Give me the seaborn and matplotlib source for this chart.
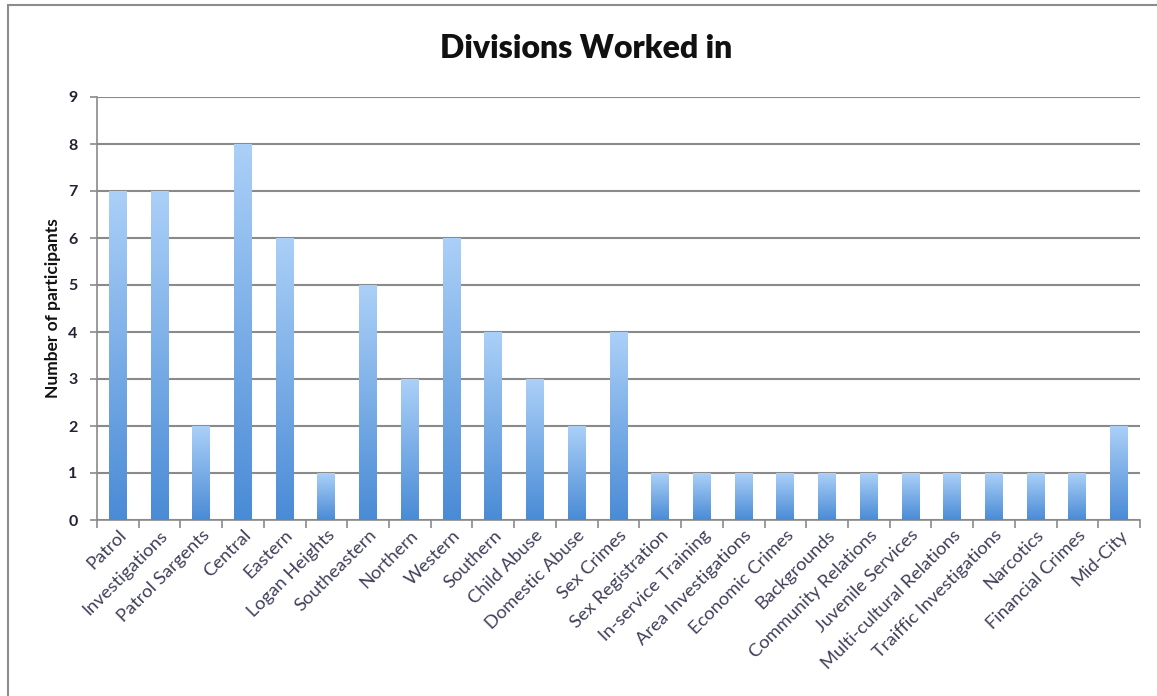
import numpy as np
import pandas as pd
import matplotlib
matplotlib.use("Agg")
import matplotlib.pyplot as plt
import seaborn as sns
from matplotlib.colors import LinearSegmentedColormap
from matplotlib.patches import Rectangle

divisions = [
    "Patrol", "Investigations", "Patrol Sargents", "Central", "Eastern",
    "Logan Heights", "Southeastern", "Northern", "Western", "Southern",
    "Child Abuse", "Domestic Abuse", "Sex Crimes", "Sex Registration",
    "In-service Training", "Area Investigations", "Economic Crimes",
    "Backgrounds", "Community Relations", "Juvenile Services",
    "Multi-cultural Relations", "Traiffic Investigations", "Narcotics",
    "Financial Crimes", "Mid-City",
]
participants = [7, 7, 2, 8, 6, 1, 5, 3, 6, 4, 3, 2, 4, 1, 1, 1, 1, 1, 1, 1, 1, 1, 1, 1, 2]
y_ticks = [0, 1, 2, 3, 4, 5, 6, 7, 8, 9]

sns.set_theme(style="white")
plt.rcParams["font.family"] = ["Lato", "DejaVu Sans"]

df = pd.DataFrame({"division": divisions, "participants": participants})

fig = plt.figure(figsize=(11.57, 6.96), dpi=100)
ax = fig.add_axes([97 / 1157, 1 - 520 / 696, (1140 - 97) / 1157, (520 - 97) / 696])

sns.barplot(data=df, x="division", y="participants", ax=ax, width=0.43,
            color="#6fa6e6", saturation=1, zorder=3)

# vertical gradient fill for each bar: light at top, deeper blue at the base
grad = LinearSegmentedColormap.from_list("bar_grad", ["#4a8bd6", "#abd0f8"])
gimg = np.linspace(0, 1, 256).reshape(-1, 1)
for patch in ax.patches:
    x0, y0 = patch.get_x(), patch.get_y()
    w, h = patch.get_width(), patch.get_height()
    patch.set_facecolor("none")
    patch.set_edgecolor("none")
    im = ax.imshow(gimg, cmap=grad, origin="lower", aspect="auto",
                   extent=[x0, x0 + w, y0, y0 + h], zorder=3)
    im.set_clip_path(patch)

ax.set_xlim(-0.5, len(divisions) - 0.5)
ax.set_ylim(0, 9)
ax.set_yticks(y_ticks)
ax.yaxis.grid(True, color="#8a8a8a", linewidth=1.5, zorder=1)
ax.set_axisbelow(True)

for side in ("top", "right"):
    ax.spines[side].set_visible(False)
for side in ("left", "bottom"):
    ax.spines[side].set_color("#8a8a8a")
    ax.spines[side].set_linewidth(1.2)

# category boundary ticks on the x axis
ax.set_xticks(np.arange(-0.5, len(divisions), 1.0), minor=True)
ax.tick_params(axis="x", which="major", length=0, pad=5)
ax.tick_params(axis="x", which="minor", length=6, width=1.2, color="#8a8a8a", direction="out", bottom=True)
ax.tick_params(axis="y", which="major", length=5, width=1.2, color="#8a8a8a", direction="out", left=True, pad=9)

ax.set_xticks(range(len(divisions)))
ax.set_xticklabels(divisions, rotation=45, ha="right", rotation_mode="anchor",
                   fontsize=13.2, color="#40405a")
for lbl in ax.get_yticklabels():
    lbl.set_fontweight("bold")
    lbl.set_fontsize(11.5)
    lbl.set_color("#222233")

ax.set_xlabel("")
ax.set_ylabel("Number of participants", fontsize=12.5, fontweight="bold", color="#111111", labelpad=5)

fig.text(586 / 1157, 1 - 48 / 696, "Divisions Worked in", ha="center", va="center",
         fontsize=23, fontweight="heavy", color="#111111")

# outer chart frame
fig.patches.append(Rectangle((8 / 1157, -0.05), 1.1, 1 - 5 / 696 + 0.05,
                             transform=fig.transFigure, fill=False,
                             edgecolor="#8c8c8c", linewidth=1.5))

fig.savefig("out.png", dpi=100, facecolor="white")
